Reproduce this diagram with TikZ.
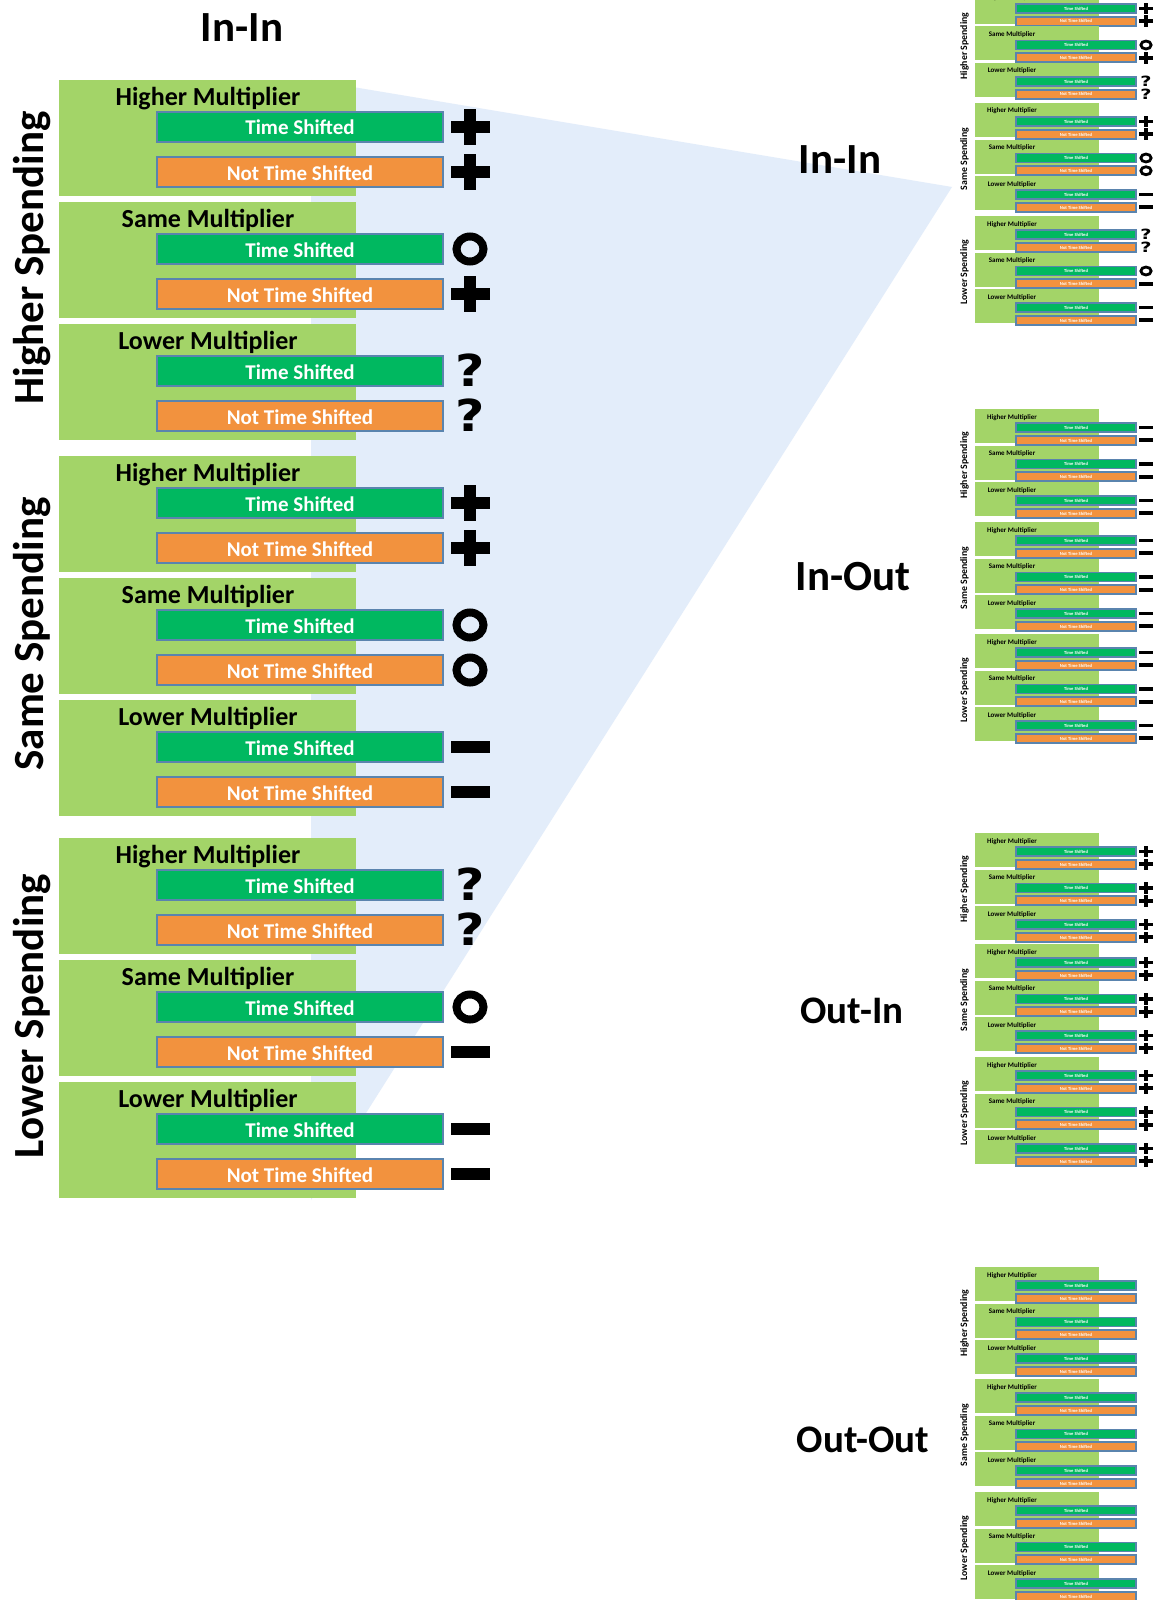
\documentclass[tikz,border=0pt]{standalone}
\usepackage{fontspec}
\setmainfont{Carlito}
\newfontfamily\symfont{DejaVu Sans}
\definecolor{panelgreen}{HTML}{A3D468}
\definecolor{tsgreen}{HTML}{00B860}
\definecolor{ntsorange}{HTML}{F2923E}
\definecolor{barborder}{HTML}{5A84AE}
\definecolor{fanblue}{HTML}{E3EDFA}
\tikzset{
 panel/.style={fill=panelgreen},
 bbar/.style={draw=barborder, line width=2pt, minimum width=286pt, minimum height=30pt, inner sep=0pt, text=white, font=\bfseries\fontsize{21}{21}\selectfont, text height=16pt, text depth=0pt},
 sbar/.style={draw=barborder, line width=1.6pt, minimum width=120.4pt, minimum height=9pt, inner sep=0pt, text=white, font=\bfseries\fontsize{4.6}{4.6}\selectfont, text height=3.5pt, text depth=0pt},
 bmult/.style={anchor=base, inner sep=0pt, font=\bfseries\fontsize{26}{26}\selectfont},
 smult/.style={anchor=base, inner sep=0pt, font=\bfseries\fontsize{7}{7}\selectfont},
 bspend/.style={anchor=base, rotate=90, inner sep=0pt, font=\bfseries\fontsize{43}{43}\selectfont},
 sspend/.style={anchor=base, rotate=90, inner sep=0pt, font=\bfseries\fontsize{9.8}{9.8}\selectfont},
 ttl/.style={anchor=base, inner sep=0pt, font=\bfseries\fontsize{43}{43}\selectfont},
 ttlsmall/.style={anchor=base, inner sep=0pt, font=\bfseries\fontsize{39}{39}\selectfont},
 qsym/.style={inner sep=0pt, font=\symfont\bfseries\fontsize{44}{44}\selectfont, text height=31pt, text depth=0pt, xscale=1.15},
}
% #1 type (P,M,O,Q,N), #2 x, #3 y, #4 xscale, #5 yscale, #6 name
\newcommand\symb[6]{%
 \begin{scope}[shift={(#2,#3)},xscale=#4,yscale=#5]
  \if P#1 \fill (-19.5,-6) rectangle (19.5,6); \fill (-6,-18) rectangle (6,18); \fi
  \if M#1 \fill (-19.5,-6) rectangle (19.5,6); \fi
  \if O#1 \pgfmathsetmacro\olw{8*(#4+#5)/2}\draw[line width=\olw pt] (0,0) ellipse [x radius=13.5, y radius=12.5]; \fi
  \if Q#1 \node[qsym,transform shape] (#6) at (0,0) {?}; \fi
 \end{scope}}
% #1 id, #2 #3 #4 group tops, #5 symbol list g/m/a/b
\newcommand\smalldiag[5]{%
  \foreach \g/\gy/\gname in {1/#2/Higher,2/#3/Same,3/#4/Lower}{
    \node[sspend] (#1-s\g) at (967,\gy+56) {\gname\ Spending};
    \foreach \m/\mo/\mname in {1/0/Higher,2/36.5/Same,3/73/Lower}{
      \pgfmathsetmacro\py{\gy+\mo}
      \fill[panel] (975,\py) rectangle (1099,\py+34);
      \node[smult] (#1-m\g\m) at (1012,\py+10) {\mname\ Multiplier};
      \node[sbar,fill=tsgreen] (#1-ts\g\m) at (1076,\py+18.5) {Time Shifted};
      \node[sbar,fill=ntsorange] (#1-nts\g\m) at (1076,\py+31.25) {Not Time Shifted};
    }
  }
  \foreach \g/\m/\a/\b in {#5}{
    \pgfmathsetmacro\py{{#2,#3,#4}[\g-1]+{0,36.5,73}[\m-1]}
    \symb{\a}{1146}{\py+18.5}{0.38}{0.32}{#1-q\g\m a}
    \symb{\b}{1146}{\py+31.25}{0.38}{0.32}{#1-q\g\m b}
  }
}
\begin{document}
\begin{tikzpicture}[x=1pt,y=-1pt]
\useasboundingbox (0,0) rectangle (1157,1600);
\clip (0,0) rectangle (1157,1600);
\fill[white] (0,0) rectangle (1157,1600);
% zoom fan
\coordinate (fanapex) at (952,187);
\fill[fanblue] (311,80) -- (fanapex) -- (311,1200) -- cycle;
% big diagram
\node[ttl] (bigtitle) at (242,42) {In-In};
\foreach \g/\gy/\gname in {1/80/Higher,2/456/Same,3/838/Lower}{
  \node[bspend] (b-s\g) at (43,\gy+178) {\gname\ Spending};
  \foreach \m/\mo/\mname in {1/0/Higher,2/122/Same,3/244/Lower}{
    \pgfmathsetmacro\py{\gy+\mo}
    \fill[panel] (59,\py) rectangle (356,\py+116);
    \node[bmult] (b-m\g\m) at (208,\py+25.5) {\mname\ Multiplier};
    \node[bbar,fill=tsgreen] (b-ts\g\m) at (300,\py+47) {Time Shifted};
    \node[bbar,fill=ntsorange] (b-nts\g\m) at (300,\py+92) {Not Time Shifted};
  }
}
\foreach \py/\a/\b/\n in {80/P/P/11,202/O/P/12,324/Q/Q/13,456/P/P/21,578/O/O/22,700/M/M/23,838/Q/Q/31,960/O/M/32,1082/M/M/33}{
  \symb{\a}{470}{\py+47}{1}{1}{b-q\n a}
  \symb{\b}{470}{\py+92}{1}{1}{b-q\n b}
}
% small titles
\node[ttl] (t-ii) at (840,173.5) {In-In};
\node[ttl] (t-io) at (853,590.5) {In-Out};
\node[ttlsmall] (t-oi) at (852,1023) {Out-In};
\node[ttlsmall] (t-oo) at (863,1452) {Out-Out};
% small diagrams
\smalldiag{ii}{-10}{103}{216}{1/1/P/P,1/2/O/P,1/3/Q/Q,2/1/P/P,2/2/O/O,2/3/M/M,3/1/Q/Q,3/2/O/M,3/3/M/M}
\smalldiag{io}{409}{522}{634}{1/1/M/M,1/2/M/M,1/3/M/M,2/1/M/M,2/2/M/M,2/3/M/M,3/1/M/M,3/2/M/M,3/3/M/M}
\smalldiag{oi}{833}{944}{1057}{1/1/P/P,1/2/P/P,1/3/P/P,2/1/P/P,2/2/P/P,2/3/P/P,3/1/P/P,3/2/P/P,3/3/P/P}
\smalldiag{oo}{1267}{1379}{1492}{1/1/N/N,1/2/N/N,1/3/N/N,2/1/N/N,2/2/N/N,2/3/N/N,3/1/N/N,3/2/N/N,3/3/N/N}
\end{tikzpicture}
\end{document}
